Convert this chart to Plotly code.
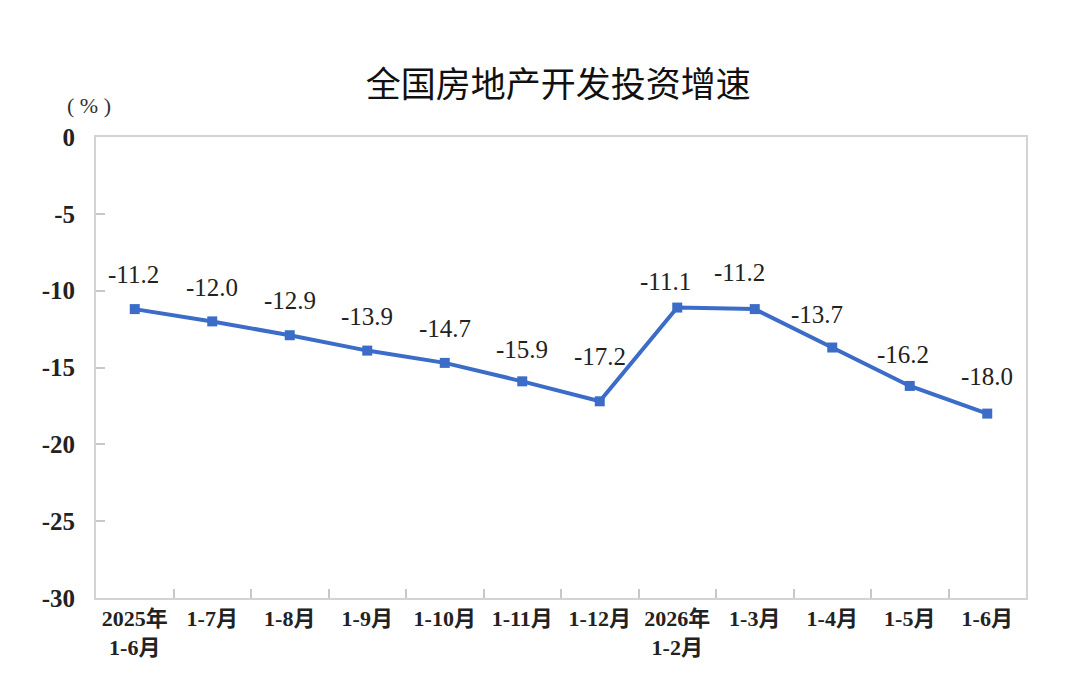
import plotly.graph_objects as go

categories = ["2025年<br>1-6月", "1-7月", "1-8月", "1-9月", "1-10月", "1-11月", "1-12月",
              "2026年<br>1-2月", "1-3月", "1-4月", "1-5月", "1-6月"]
values = [-11.2, -12.0, -12.9, -13.9, -14.7, -15.9, -17.2, -11.1, -11.2, -13.7, -16.2, -18.0]
labels = ["-11.2", "-12.0", "-12.9", "-13.9", "-14.7", "-15.9", "-17.2", "-11.1", "-11.2", "-13.7", "-16.2", "-18.0"]
y_ticks = [0, -5, -10, -15, -20, -25, -30]

# label placement offsets (pixels) relative to each point
label_dx = [-1, 0, 0, 0, 0, 0, 0, -12, -15, -15, -7, 0]
label_dy = [35, 34, 35, 34, 34, 32, 45, 26, 37, 33, 31, 37]

LINE = "#3a6cc8"
SERIF = "Liberation Serif, Times New Roman, Noto Sans CJK SC, serif"

fig = go.Figure()
fig.add_trace(go.Scatter(
    x=categories, y=values, mode="lines+markers",
    line=dict(color=LINE, width=4),
    marker=dict(symbol="square", size=10, color=LINE),
    hoverinfo="skip", showlegend=False,
))

for c, v, t, dx, dy in zip(categories, values, labels, label_dx, label_dy):
    fig.add_annotation(x=c, y=v, text=t, showarrow=False, xshift=dx, yshift=dy,
                       font=dict(family=SERIF, size=25, color="#222222"))

fig.add_annotation(xref="paper", yref="paper", x=-0.0075, y=1.069, text="(&nbsp;%&nbsp;)",
                   showarrow=False, xanchor="center", yanchor="middle",
                   font=dict(family=SERIF, size=22, color="#333333"))

fig.update_layout(
    width=1080, height=694,
    margin=dict(l=88, r=62, t=129, b=104),
    paper_bgcolor="white", plot_bgcolor="white",
    title=dict(text="全国房地产开发投资增速", xref="paper", x=0.497, xanchor="center",
               y=0.889, yanchor="middle",
               font=dict(family="Noto Sans CJK SC, sans-serif", size=35, color="#111111")),
)
fig.update_xaxes(
    type="category", showline=True, linecolor="#d3d3d3", linewidth=2, mirror=True,
    showgrid=False, ticks="inside", tickson="boundaries", ticklen=9, tickcolor="#c8c8c8", tickwidth=1.5,
    tickfont=dict(family=SERIF, size=22, color="#222222", weight="bold"),
    range=[-0.5, 11.5],
)
fig.update_yaxes(
    range=[-30, 0], tickvals=y_ticks, ticktext=[str(v) for v in y_ticks],
    showline=True, linecolor="#d3d3d3", linewidth=2, mirror=True,
    showgrid=False, zeroline=False, ticks="inside", ticklen=9, tickcolor="#c8c8c8", tickwidth=1.5,
    ticklabelstandoff=14,
    tickfont=dict(family=SERIF, size=25, color="#222222", weight="bold"),
)

fig.write_html("out.html")
